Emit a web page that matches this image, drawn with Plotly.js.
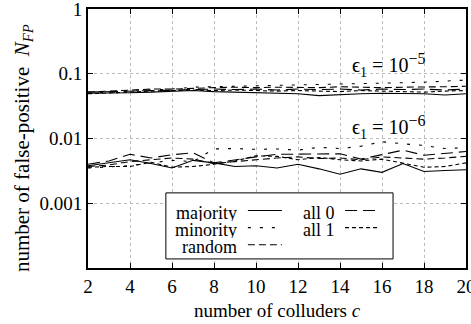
<!DOCTYPE html>
<html>
<head>
<meta charset="utf-8">
<script src="https://cdn.plot.ly/plotly-3.0.1.min.js"></script>
<style>html,body{margin:0;padding:0;background:#fff;}#chart{width:471px;height:324px;}</style>
</head>
<body>
<div id="chart"></div>
<script>
// ---- data ----
const colluders = [2,3,4,5,6,7,8,9,10,11,12,13,14,15,16,17,18,19,20];
const schemes = ["majority", "minority", "random", "all 0", "all 1"];

// epsilon_1 = 1e-5
const majority_e5 = [0.050,0.050,0.051,0.052,0.054,0.055,0.053,0.052,0.051,0.050,0.049,0.046,0.048,0.049,0.050,0.050,0.049,0.047,0.049];
const minority_e5 = [0.050,0.052,0.055,0.057,0.058,0.062,0.063,0.064,0.066,0.067,0.068,0.068,0.069,0.070,0.071,0.072,0.074,0.077,0.080];
const random_e5   = [0.052,0.054,0.056,0.058,0.058,0.060,0.061,0.062,0.061,0.062,0.062,0.061,0.063,0.062,0.061,0.062,0.062,0.063,0.064];
const all0_e5     = [0.052,0.053,0.054,0.056,0.057,0.058,0.058,0.057,0.058,0.056,0.058,0.057,0.058,0.056,0.058,0.057,0.058,0.056,0.058];
const all1_e5     = [0.049,0.051,0.052,0.054,0.055,0.056,0.055,0.056,0.055,0.054,0.055,0.054,0.053,0.055,0.054,0.053,0.052,0.054,0.055];

// epsilon_1 = 1e-6
const majority_e6 = [0.0038,0.0042,0.0047,0.0041,0.0035,0.0046,0.0042,0.0037,0.0038,0.0035,0.0040,0.0034,0.0028,0.0034,0.0030,0.0041,0.0031,0.0032,0.0033];
const minority_e6 = [0.0035,0.0036,0.0038,0.0042,0.0046,0.0044,0.0069,0.0070,0.0068,0.0069,0.0066,0.0073,0.0070,0.0076,0.0089,0.0083,0.0078,0.0070,0.0072];
const random_e6   = [0.0037,0.0039,0.0044,0.0047,0.0050,0.0048,0.0041,0.0044,0.0047,0.0050,0.0052,0.0049,0.0050,0.0047,0.0052,0.0050,0.0048,0.0050,0.0053];
const all0_e6     = [0.0040,0.0045,0.0057,0.0050,0.0056,0.0060,0.0042,0.0047,0.0052,0.0057,0.0057,0.0058,0.0058,0.0048,0.0056,0.0066,0.0055,0.0059,0.0063];
const all1_e6     = [0.0036,0.0037,0.0037,0.0043,0.0036,0.0037,0.0040,0.0045,0.0054,0.0053,0.0047,0.0051,0.0047,0.0045,0.0048,0.0042,0.0036,0.0037,0.0042];

const xTicks = [2,4,6,8,10,12,14,16,18,20];
const yTickVals = [0.001, 0.01, 0.1, 1];
const yTickText = ["0.001", "0.01", "0.1", "1"];

// ---- styles ----
const dashes = ["solid", "3px,9px", "7px,4px", "12px,6px", "4px,3px"];
const seriesE5 = [majority_e5, minority_e5, random_e5, all0_e5, all1_e5];
const seriesE6 = [majority_e6, minority_e6, random_e6, all0_e6, all1_e6];

const traces = [];
schemes.forEach((name, i) => {
  [seriesE5[i], seriesE6[i]].forEach((ys) => {
    traces.push({
      x: colluders, y: ys, type: "scatter", mode: "lines", name: name,
      showlegend: false,
      line: {color: "#000", width: 1.1, dash: dashes[i]}
    });
  });
});

const fam = "Liberation Serif, Times New Roman, serif";
const font = {family: fam, size: 18, color: "#000"};
const shapes = [{
  type: "rect", xref: "paper", yref: "paper",
  x0: 0.206, x1: 0.807, y0: 0.035, y1: 0.290,
  line: {color: "#000", width: 1}, fillcolor: "#fff", layer: "above"
}];
const annotations = [];
const legendPos = [
  {tx: 0.399, l0: 0.423, l1: 0.513, y: 0.214},
  {tx: 0.399, l0: 0.423, l1: 0.513, y: 0.148},
  {tx: 0.399, l0: 0.423, l1: 0.513, y: 0.082},
  {tx: 0.659, l0: 0.680, l1: 0.772, y: 0.214},
  {tx: 0.659, l0: 0.680, l1: 0.772, y: 0.148}
];
schemes.forEach((name, i) => {
  const p = legendPos[i];
  annotations.push({
    xref: "paper", yref: "paper", x: p.tx, y: p.y, xanchor: "right", yanchor: "middle",
    text: name, showarrow: false, font: font, height: 17, valign: "middle"
  });
  shapes.push({
    type: "line", xref: "paper", yref: "paper", x0: p.l0, x1: p.l1, y0: p.y + 0.008, y1: p.y + 0.008,
    line: {color: "#000", width: 1.1, dash: dashes[i]}, layer: "above"
  });
});
const epsFont = {family: fam, size: 20, color: "#000"};
annotations.push({
  xref: "x", yref: "y", x: 16.3, y: Math.log10(0.135),
  text: "\u03F5<sub>1</sub> = 10<sup><span style=\"font-size:16px\">\u22125</span></sup>",
  showarrow: false, font: epsFont
});
annotations.push({
  xref: "x", yref: "y", x: 16.3, y: Math.log10(0.0150),
  text: "\u03F5<sub>1</sub> = 10<sup><span style=\"font-size:16px\">\u22126</span></sup>",
  showarrow: false, font: epsFont
});
// y-axis title (placed as rotated annotation to match the reference position)
annotations.push({
  xref: "paper", yref: "paper", x: -0.172, y: 0.463, xanchor: "center", yanchor: "middle",
  textangle: -90, showarrow: false,
  text: "number of false-positive  <i>N</i><sub><i>FP</i></sub>",
  font: {family: fam, size: 21, color: "#000"}
});

const layout = {
  width: 471, height: 324,
  margin: {l: 88, r: 5, t: 9, b: 56},
  paper_bgcolor: "#fff", plot_bgcolor: "#fff",
  font: font,
  showlegend: false,
  xaxis: {
    range: [2, 20], tickvals: xTicks, ticktext: xTicks.map(String),
    showline: true, linecolor: "#000", linewidth: 2, mirror: "ticks",
    ticks: "inside", ticklen: 5, tickcolor: "#000", tickwidth: 1,
    showgrid: true, gridcolor: "#bbb", griddash: "dot", gridwidth: 1,
    zeroline: false, ticklabeloverflow: "allow",
    title: {text: "number of colluders <i>c</i>", font: {family: fam, size: 19, color: "#000"}, standoff: 8},
    tickfont: {family: fam, size: 19, color: "#000"}
  },
  yaxis: {
    type: "log", range: [-4, 0], tickvals: yTickVals, ticktext: yTickText,
    showline: true, linecolor: "#000", linewidth: 2, mirror: "ticks",
    ticks: "inside", ticklen: 5, tickcolor: "#000", tickwidth: 1,
    showgrid: true, gridcolor: "#bbb", griddash: "dot", gridwidth: 1,
    zeroline: false, ticklabeloverflow: "allow",
    tickfont: {family: fam, size: 19, color: "#000"}
  },
  shapes: shapes,
  annotations: annotations
};

Plotly.newPlot("chart", traces, layout, {staticPlot: true, displayModeBar: false});
</script>
</body>
</html>
